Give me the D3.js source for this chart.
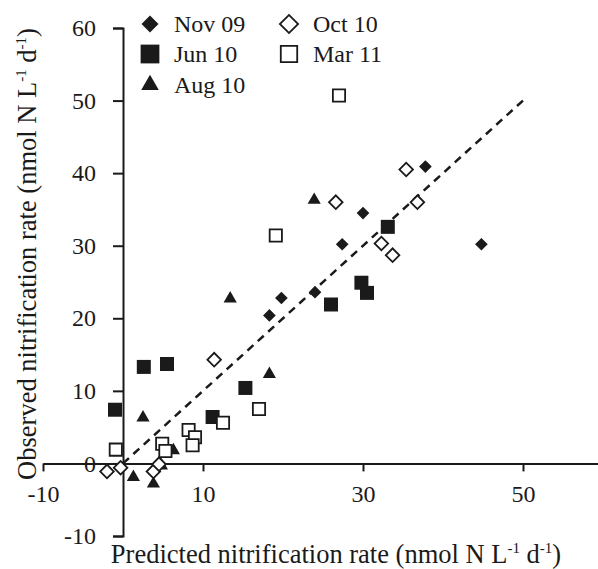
<!DOCTYPE html>
<html>
<head>
<meta charset="UTF-8"/>
<title>Observed vs predicted nitrification</title>
<style>
  body { margin: 0; background: #ffffff; }
  svg { display: block; }
  text { font-family: "Liberation Serif", "Times New Roman", serif; fill: #1a1a1a; }
  .axis path, .axis line { stroke: #1a1a1a; stroke-width: 2; }
  .axis text { font-size: 24px; font-family: "Liberation Serif", "Times New Roman", serif; }
  .title { font-size: 26.5px; }
  .legend text { font-size: 24px; }
</style>
</head>
<body>
<svg width="598" height="569"></svg>
<script src="https://d3js.org/d3.v7.min.js"></script>
<script>
// series, [predicted, observed]
const seriesNames = ["Nov 09", "Jun 10", "Aug 10", "Oct 10", "Mar 11"];
const nov09 = [[37.8, 40.9], [30.0, 34.5], [27.4, 30.2], [44.8, 30.2], [19.8, 22.8], [24.0, 23.6], [18.3, 20.4]];
const jun10 = [[33.1, 32.6], [29.8, 24.9], [30.5, 23.5], [26.0, 21.9], [2.6, 13.3], [5.5, 13.7], [15.3, 10.4], [-1.0, 7.4], [11.2, 6.4]];
const aug10 = [[23.9, 36.3], [13.4, 22.7], [18.3, 12.3], [2.5, 6.3], [6.3, 1.8], [1.3, -1.9], [4.8, -0.3], [3.8, -2.8]];
const oct10 = [[35.4, 40.5], [26.6, 36.0], [36.8, 36.0], [32.3, 30.3], [33.7, 28.7], [11.4, 14.3], [-2.0, -1.1], [-0.3, -0.6], [3.8, -1.1], [4.5, -0.1]];
const mar11 = [[27.0, 50.7], [19.1, 31.4], [17.0, 7.5], [12.5, 5.6], [8.2, 4.6], [9.0, 3.6], [8.7, 2.5], [4.9, 2.7], [5.3, 1.7], [-0.9, 1.9]];
const xTicks = [-10, 10, 30, 50];
const yTicks = [-10, 0, 10, 20, 30, 40, 50, 60];
const oneToOne = [[0, 0], [50, 50]];

const svg = d3.select("svg");

const x = d3.scaleLinear().domain([-10, 60]).range([43, 603]);
const y = d3.scaleLinear().domain([-10, 60]).range([536, 28]);

// marker styles per series
const shapes = [
  { type: d3.symbolSquare, size: 80, rot: 45, fill: "#1a1a1a" },
  { type: d3.symbolSquare, size: 196, rot: 0, fill: "#1a1a1a" },
  { type: d3.symbolTriangle, size: 75, rot: 0, fill: "#1a1a1a" },
  { type: d3.symbolSquare, size: 92, rot: 45, fill: "#ffffff" },
  { type: d3.symbolSquare, size: 150, rot: 0, fill: "#ffffff" }
];
const allSeries = [nov09, jun10, aug10, oct10, mar11];

// plain hyphen for negatives, like the original
const fmt = d => String(d);

// axes
svg.append("g")
  .attr("class", "axis")
  .attr("transform", `translate(0, ${y(0)})`)
  .call(d3.axisBottom(x).tickValues(xTicks).tickFormat(fmt).tickSize(8).tickSizeOuter(0).tickPadding(14))
  .selectAll("text").attr("fill", "#1a1a1a");

svg.append("g")
  .attr("class", "axis")
  .attr("transform", `translate(${x(0)}, 0)`)
  .call(d3.axisLeft(y).tickValues(yTicks).tickFormat(fmt).tickSize(10).tickSizeOuter(10).tickPadding(17))
  .selectAll("text").attr("fill", "#1a1a1a");

// 1:1 line
svg.append("line")
  .attr("x1", x(oneToOne[0][0])).attr("y1", y(oneToOne[0][1]))
  .attr("x2", x(oneToOne[1][0])).attr("y2", y(oneToOne[1][1]))
  .attr("stroke", "#1a1a1a")
  .attr("stroke-width", 2.5)
  .attr("stroke-dasharray", "8,6");

// points
allSeries.forEach((data, i) => {
  const s = shapes[i];
  svg.append("g").selectAll("path")
    .data(data)
    .enter()
    .append("path")
    .attr("d", d3.symbol().type(s.type).size(s.size))
    .attr("transform", d => `translate(${x(d[0])}, ${y(d[1])}) rotate(${s.rot})`)
    .attr("fill", s.fill)
    .attr("stroke", s.fill === "#ffffff" ? "#1a1a1a" : "none")
    .attr("stroke-width", 1.8);
});

// legend
const legendPos = [[150, 24], [150, 54], [150, 85], [289, 24], [289, 54]];
const legend = svg.append("g").attr("class", "legend");
seriesNames.forEach((name, i) => {
  const s = shapes[i];
  const p = legendPos[i];
  legend.append("path")
    .attr("d", d3.symbol().type(s.type).size(s.size * 1.8))
    .attr("transform", `translate(${p[0]}, ${p[1]}) rotate(${s.rot})`)
    .attr("fill", s.fill)
    .attr("stroke", s.fill === "#ffffff" ? "#1a1a1a" : "none")
    .attr("stroke-width", 1.8);
  legend.append("text")
    .attr("x", p[0] + 24)
    .attr("y", p[1] + 8)
    .text(name);
});

// axis titles
function unitTitle(sel, label) {
  sel.append("tspan").text(label + " (nmol N L");
  sel.append("tspan").attr("font-size", "15px").attr("dy", -10).text("-1");
  sel.append("tspan").attr("dy", 10).text(" d");
  sel.append("tspan").attr("font-size", "15px").attr("dy", -10).text("-1");
  sel.append("tspan").attr("dy", 10).text(")");
}

svg.append("text")
  .attr("class", "title")
  .attr("x", 336)
  .attr("y", 563)
  .attr("text-anchor", "middle")
  .call(unitTitle, "Predicted nitrification rate");

svg.append("text")
  .attr("class", "title")
  .attr("transform", "translate(36, 254) rotate(-90)")
  .attr("text-anchor", "middle")
  .call(unitTitle, "Observed nitrification rate");
</script>
</body>
</html>
